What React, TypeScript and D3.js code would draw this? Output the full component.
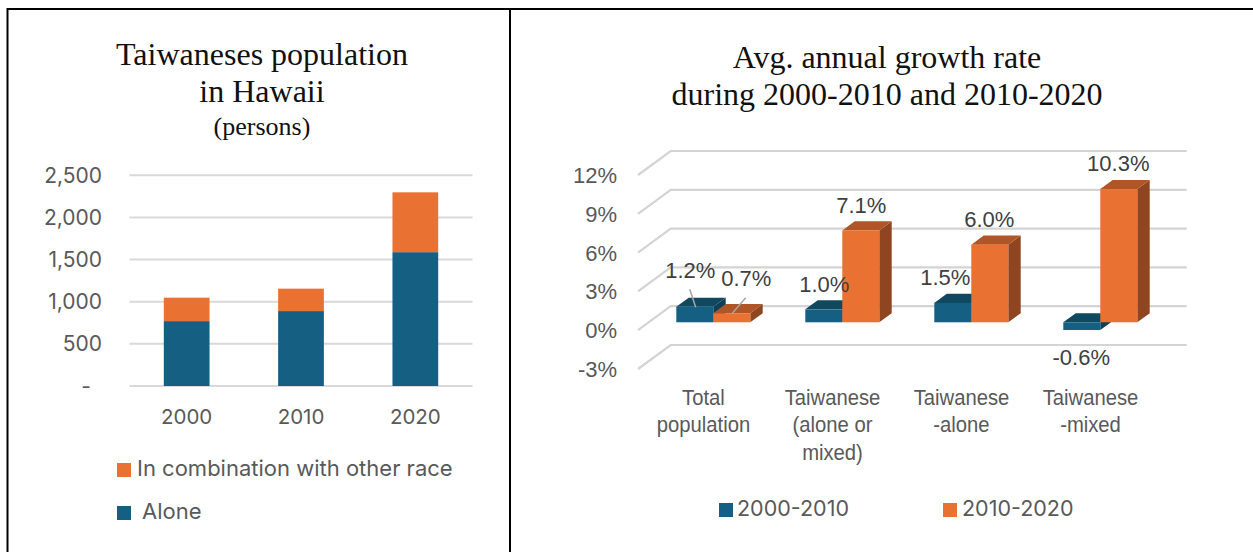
import * as d3 from 'd3';

const W = 1253;
const H = 552;

// left chart data
const years = ['2000', '2010', '2020'];
const alone = [770, 889, 1588];
const mixed = [278, 266, 710];
const popTicks = [0, 500, 1000, 1500, 2000, 2500];

// right chart data
const groups = ['Total population', 'Taiwanese (alone or mixed)', 'Taiwanese -alone', 'Taiwanese -mixed'];
const groupLines = [['Total', 'population'], ['Taiwanese', '(alone or', 'mixed)'], ['Taiwanese', '-alone'], ['Taiwanese', '-mixed']];
const growth0010 = [1.2, 1.0, 1.5, -0.6];
const growth1020 = [0.7, 7.1, 6.0, 10.3];
const growthTicks = [-3, 0, 3, 6, 9, 12];

const BLUE = '#156082';
const ORANGE = '#E97132';
const TXT = '#595959';
const SANS = '"Inter", "Noto Sans", sans-serif';
const ARIAL = '"Liberation Sans", sans-serif';
const SERIF = '"Liberation Serif", serif';

// ---- left chart scales
const xYear = d3.scaleBand().domain(years).range([129.5, 472.5]).paddingInner(0.6).paddingOuter(0.3);
const yPop = d3.scaleLinear().domain([0, 2500]).range([386, 175.3]);
const popFmt = (v: number) => (v === 0 ? '-' : d3.format(',')(v));

// ---- right chart scales (front plane of the 3D box)
const xGroup = d3.scaleBand().domain(groups).range([638, 1154]);
const yGrowth = d3.scaleLinear().domain([-3, 12]).range([369, 175]);
const depthX = 32.7; // wall offset
const depthY = -24;
const barZ = 0.33; // where bars stand in the box
const barDepth = 0.38; // bar thickness as a share of box depth
const barW = 37;

function prism(x: number, v: number) {
  // front face sits at barZ, depth goes up and to the right
  const bx = x + depthX * barZ;
  const y0 = yGrowth(0) + depthY * barZ;
  const yv = yGrowth(v) + depthY * barZ;
  const dx = depthX * barDepth;
  const dy = depthY * barDepth;
  const top = Math.min(y0, yv);
  const bot = Math.max(y0, yv);
  return {
    front: { x: bx, y: top, w: barW, h: bot - top },
    topFace: `M${bx},${top}L${bx + dx},${top + dy}L${bx + barW + dx},${top + dy}L${bx + barW},${top}Z`,
    side: `M${bx + barW},${top}L${bx + barW + dx},${top + dy}L${bx + barW + dx},${bot + dy}L${bx + barW},${bot}Z`,
  };
}

// data label placement for the right chart, relative to each bar's front face
const labelNudge0010 = [
  { dx: 14, base: 277.7 },
  { dx: 19, base: 292 },
  { dx: 11, base: 285 },
  { dx: 18, base: 365 },
];
const labelNudge1020 = [
  { dx: 33, base: 286 },
  { dx: 19, base: 212.7 },
  { dx: 18, base: 226.7 },
  { dx: 18, base: 171 },
];

function Prism({ x, v, color, dark, darker }: { x: number; v: number; color: string; dark: string; darker: string }) {
  const p = prism(x, v);
  return (
    <g>
      <path d={p.side} fill={darker} />
      <path d={p.topFace} fill={dark} />
      <rect x={p.front.x} y={p.front.y} width={p.front.w} height={p.front.h} fill={color} />
    </g>
  );
}

export default function App() {
  const groupMid = (g: string) => (xGroup(g) as number) + xGroup.bandwidth() / 2;
  const barStart = (g: string) => groupMid(g) - barW;
  const faceStart = (g: string) => barStart(g) + depthX * barZ;
  return (
    <svg width={W} height={H} style={{ position: 'fixed', left: 0, top: 0, background: '#fff' }}>
      {/* panel frame */}
      <g stroke="#000" strokeWidth={2} fill="none">
        <path d="M7.5,552V9H1253" />
        <path d="M510,9V552" />
      </g>

      {/* left title */}
      <g fontFamily={SERIF} fill="#111" textAnchor="middle">
        <text x={262} y={65} fontSize={32}>Taiwaneses population</text>
        <text x={262} y={102} fontSize={32}>in Hawaii</text>
        <text x={262} y={135} fontSize={26}>(persons)</text>
      </g>

      {/* left grid + ticks */}
      {popTicks.map((t) => (
        <g key={t}>
          <line x1={129.5} x2={472.5} y1={yPop(t)} y2={yPop(t)} stroke="#D9D9D9" strokeWidth={2} />
          <text x={t === 0 ? 91 : 102} y={yPop(t) + 7.5} textAnchor="end" fontFamily={SANS} fontSize={21} fill={TXT}>{popFmt(t)}</text>
        </g>
      ))}

      {/* stacked bars */}
      {years.map((y, i) => (
        <g key={y}>
          <rect x={xYear(y)} y={yPop(alone[i])} width={xYear.bandwidth()} height={yPop(0) - yPop(alone[i])} fill={BLUE} />
          <rect x={xYear(y)} y={yPop(alone[i] + mixed[i])} width={xYear.bandwidth()} height={yPop(alone[i]) - yPop(alone[i] + mixed[i])} fill={ORANGE} />
          <text x={(xYear(y) as number) + xYear.bandwidth() / 2} y={424} textAnchor="middle" fontFamily={SANS} fontSize={20.5} fill={TXT}>{y}</text>
        </g>
      ))}

      {/* left legend */}
      <rect x={117} y={463} width={14} height={14} fill={ORANGE} />
      <text x={137} y={476} fontFamily={SANS} fontSize={22} fill={TXT}>In combination with other race</text>
      <rect x={117} y={506} width={14} height={14} fill={BLUE} />
      <text x={142} y={519} fontFamily={SANS} fontSize={22} fill={TXT}>Alone</text>

      {/* right title */}
      <g fontFamily={SERIF} fill="#111" textAnchor="middle">
        <text x={887} y={68} fontSize={32}>Avg. annual growth rate</text>
        <text x={887} y={105} fontSize={32}>during 2000-2010 and 2010-2020</text>
      </g>

      {/* right grid: wall + floor lines */}
      {growthTicks.map((t) => {
        const yf = yGrowth(t);
        return (
          <g key={t}>
            <path
              d={`M${xGroup.range()[0]},${yf}L${xGroup.range()[0] + depthX},${yf + depthY}L${xGroup.range()[1] + depthX},${yf + depthY}`}
              fill="none"
              stroke="#D4D4D4"
              strokeWidth={2.2}
            />
            <text x={617} y={yf + 8} textAnchor="end" fontFamily={ARIAL} fontSize={22} fill={TXT}>{t}%</text>
          </g>
        );
      })}

      {/* 3D bars, negative first so the neighbour overlaps it */}
      {groups.map((g, i) => (
        <g key={g}>
          <Prism x={barStart(g)} v={growth0010[i]} color={BLUE} dark="#10485F" darker="#0E3F54" />
          <Prism x={barStart(g) + barW} v={growth1020[i]} color={ORANGE} dark="#AF5526" darker="#8F451F" />
        </g>
      ))}

      {/* leader lines for the first group */}
      <g stroke="#A6A6A6" strokeWidth={1.5}>
        <line x1={689.7} y1={289.3} x2={695.7} y2={307.3} />
        <line x1={745.7} y1={297.7} x2={732.3} y2={313.3} />
      </g>

      {/* data labels */}
      <g fontFamily={ARIAL} fontSize={22} fill="#404040" textAnchor="middle">
        {groups.map((g, i) => (
          <g key={g}>
            <text x={faceStart(g) + labelNudge0010[i].dx} y={labelNudge0010[i].base}>{growth0010[i].toFixed(1)}%</text>
            <text x={faceStart(g) + barW + labelNudge1020[i].dx} y={labelNudge1020[i].base}>{growth1020[i].toFixed(1)}%</text>
          </g>
        ))}
      </g>

      {/* category labels, squeezed horizontally like the source */}
      <g fontFamily={ARIAL} fontSize={22.5} fill={TXT} textAnchor="middle">
        {groups.map((g, i) =>
          groupLines[i].map((l, k) => (
            <text key={l} transform={`translate(${groupMid(g) + 1},${404.5 + k * 27.5}) scale(0.9,1)`}>{l}</text>
          )),
        )}
      </g>

      {/* right legend */}
      <rect x={719} y={503} width={14} height={14} fill={BLUE} />
      <text x={737} y={516} fontFamily={SANS} fontSize={21.5} fill={TXT}>2000-2010</text>
      <rect x={943} y={503} width={14} height={14} fill={ORANGE} />
      <text x={962} y={516} fontFamily={SANS} fontSize={21.5} fill={TXT}>2010-2020</text>
    </svg>
  );
}
